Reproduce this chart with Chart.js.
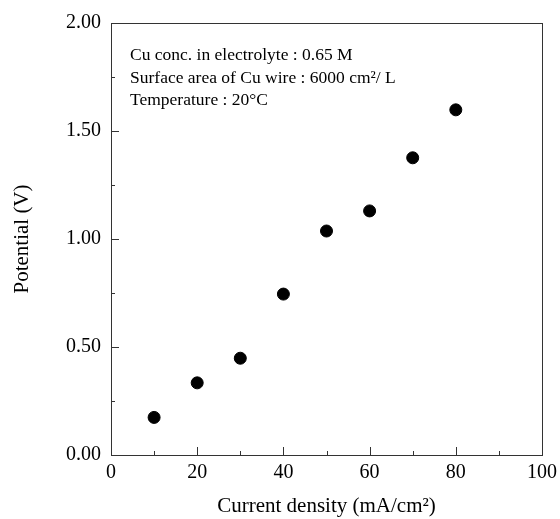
<!DOCTYPE html>
<html>
<head>
<meta charset="utf-8">
<script src="https://cdn.jsdelivr.net/npm/chart.js@4/dist/chart.umd.min.js"></script>
<style>
html,body{margin:0;padding:0;background:#fff;}
#wrap{width:560px;height:519px;position:relative;}
</style>
</head>
<body>
<div id="wrap"><canvas id="c" width="560" height="519"></canvas></div>
<script>
const currentDensity = [10, 20, 30, 40, 50, 60, 70, 80];
const potential = [0.174, 0.334, 0.448, 0.745, 1.037, 1.130, 1.376, 1.598];
const xTicks = [0, 20, 40, 60, 80, 100];
const yTicks = [0.0, 0.5, 1.0, 1.5, 2.0];
const xMinor = [10, 30, 50, 70, 90];
const yMinor = [0.25, 0.75, 1.25, 1.75];
const notes = [
  "Cu conc. in electrolyte : 0.65 M",
  "Surface area of Cu wire : 6000 cm\u00B2/ L",
  "Temperature : 20\u00B0C"
];

const FONT = "'Liberation Serif', 'Times New Roman', serif";
const AXIS_COLOR = '#333';

const frame = {
  id: 'frame',
  afterDraw(chart) {
    const {ctx, chartArea: a, scales: {x, y}} = chart;
    ctx.save();
    ctx.strokeStyle = AXIS_COLOR;
    ctx.lineWidth = 1;
    ctx.strokeRect(a.left + 0.5, a.top + 0.5, a.right - a.left, a.bottom - a.top);
    ctx.beginPath();
    xTicks.forEach(v => { const p = Math.round(x.getPixelForValue(v)) + 0.5; ctx.moveTo(p, a.bottom); ctx.lineTo(p, a.bottom - 8); });
    xMinor.forEach(v => { const p = Math.round(x.getPixelForValue(v)) + 0.5; ctx.moveTo(p, a.bottom); ctx.lineTo(p, a.bottom - 4); });
    yTicks.forEach(v => { const p = Math.round(y.getPixelForValue(v)) + 0.5; ctx.moveTo(a.left, p); ctx.lineTo(a.left + 8, p); });
    yMinor.forEach(v => { const p = Math.round(y.getPixelForValue(v)) + 0.5; ctx.moveTo(a.left, p); ctx.lineTo(a.left + 4, p); });
    ctx.stroke();
    ctx.fillStyle = '#000';
    ctx.font = "17.5px " + FONT;
    ctx.textBaseline = 'alphabetic';
    ctx.textAlign = 'left';
    notes.forEach((t, i) => ctx.fillText(t, a.left + 19, a.top + 37 + i * 22.5));
    ctx.restore();
  }
};

new Chart(document.getElementById('c'), {
  type: 'scatter',
  data: {
    datasets: [{
      data: currentDensity.map((v, i) => ({x: v, y: potential[i]})),
      backgroundColor: '#000',
      borderColor: '#000',
      pointRadius: 6,
      pointHoverRadius: 6
    }]
  },
  options: {
    responsive: false,
    animation: false,
    devicePixelRatio: 1,
    layout: {padding: {top: 23, right: 18, left: 0, bottom: 0}},
    plugins: {legend: {display: false}, tooltip: {enabled: false}},
    scales: {
      x: {
        type: 'linear', min: 0, max: 100,
        afterBuildTicks: s => { s.ticks = xTicks.map(v => ({value: v})); },
        afterFit: s => { s.height = 64; s.paddingLeft = 0; s.paddingRight = 0; },
        grid: {display: false, drawTicks: false},
        border: {display: false},
        ticks: {color: '#000', font: {family: FONT, size: 20}, padding: 6, maxRotation: 0},
        title: {display: true, text: 'Current density (mA/cm\u00B2)', color: '#000', font: {family: FONT, size: 21}, padding: {top: 4, bottom: 0}}
      },
      y: {
        type: 'linear', min: 0, max: 2,
        afterBuildTicks: s => { s.ticks = yTicks.map(v => ({value: v})); },
        afterFit: s => { s.width = 111; s.paddingTop = 0; s.paddingBottom = 0; },
        grid: {display: false, drawTicks: false},
        border: {display: false},
        ticks: {color: '#000', font: {family: FONT, size: 20}, padding: 10, callback: v => Number(v).toFixed(2)},
        title: {display: true, text: 'Potential (V)', color: '#000', font: {family: FONT, size: 21}, padding: {top: 10, bottom: 0}}
      }
    }
  },
  plugins: [frame]
});
</script>
</body>
</html>
